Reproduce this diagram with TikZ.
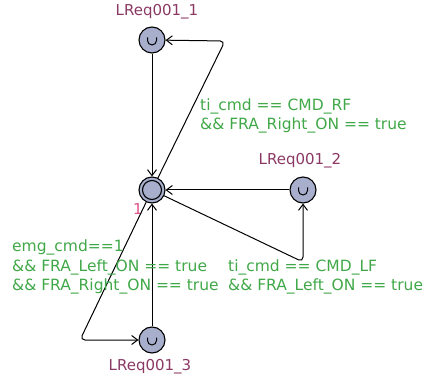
\documentclass[tikz,border=0pt]{standalone}
\usepackage{fontspec}
\setmainfont{DejaVu Sans}
\usetikzlibrary{arrows.meta}
\definecolor{locfill}{RGB}{168,175,204}
\definecolor{namecol}{RGB}{138,56,100}
\definecolor{guardcol}{RGB}{64,168,72}
\definecolor{idcol}{RGB}{222,80,140}
\tikzset{
  loc/.style={circle, draw=black, line width=1.1pt, fill=locfill,
    minimum size=26pt, inner sep=0pt},
  urgent/.style={loc, path picture={
    \draw[line width=1pt]
      ([xshift=-4.5pt,yshift=2.5pt]path picture bounding box.center)
      -- ++(0,-3pt) arc[start angle=180,end angle=360,radius=4.5pt]
      -- ++(0,3pt);}},
  edge/.style={draw=black, line width=1pt,
    -{Straight Barb[length=6pt,width=9pt]}, rounded corners=5pt},
  locname/.style={text=namecol, font=\fontsize{15}{18}\selectfont, inner sep=0pt},
  guard/.style={text=guardcol, font=\fontsize{15.5}{19.6}\selectfont,
    align=left, anchor=west, inner sep=0pt},
  idlabel/.style={text=idcol, font=\fontsize{15}{16}\selectfont, inner sep=0pt}
}
\begin{document}
\begin{tikzpicture}[x=1pt, y=-1pt]
  \useasboundingbox (0,0) rectangle (431,379);

  % locations
  \node[loc] (init) at (152,190) {};
  \draw[line width=1.1pt] (init.center) circle[radius=9.5pt];
  \node[urgent] (l1) at (152,40) {};
  \node[urgent] (l2) at (303,190) {};
  \node[urgent] (l3) at (152,340) {};

  % location names
  \node[locname] (n1) at (157,12) {LReq001\_1};
  \node[locname] (n2) at (300,161) {LReq001\_2};
  \node[locname] (n3) at (150,367) {LReq001\_3};
  \node[idlabel] (id) at (138,209) {1};

  % nails
  \coordinate (c1) at (225,41);
  \coordinate (c2) at (303,262);
  \coordinate (c3) at (80,340);

  % edges
  \draw[edge] (l1) -- (init);
  \draw[edge] (init) -- (c1) -- (l1);
  \draw[edge] (l2) -- (init);
  \draw[edge] (init) -- (c2) -- (l2);
  \draw[edge] (l3) -- (init);
  \draw[edge] (init) -- (c3) -- (l3);

  % guards
  \node[guard] (g1) at (200,116) {ti\_cmd == CMD\_RF\\\&\& FRA\_Right\_ON == true};
  \node[guard] (g2) at (228,277) {ti\_cmd == CMD\_LF\\\&\& FRA\_Left\_ON == true};
  \node[guard] (g3) at (12,267) {emg\_cmd==1\\\&\& FRA\_Left\_ON == true\\\&\& FRA\_Right\_ON == true};
\end{tikzpicture}
\end{document}
